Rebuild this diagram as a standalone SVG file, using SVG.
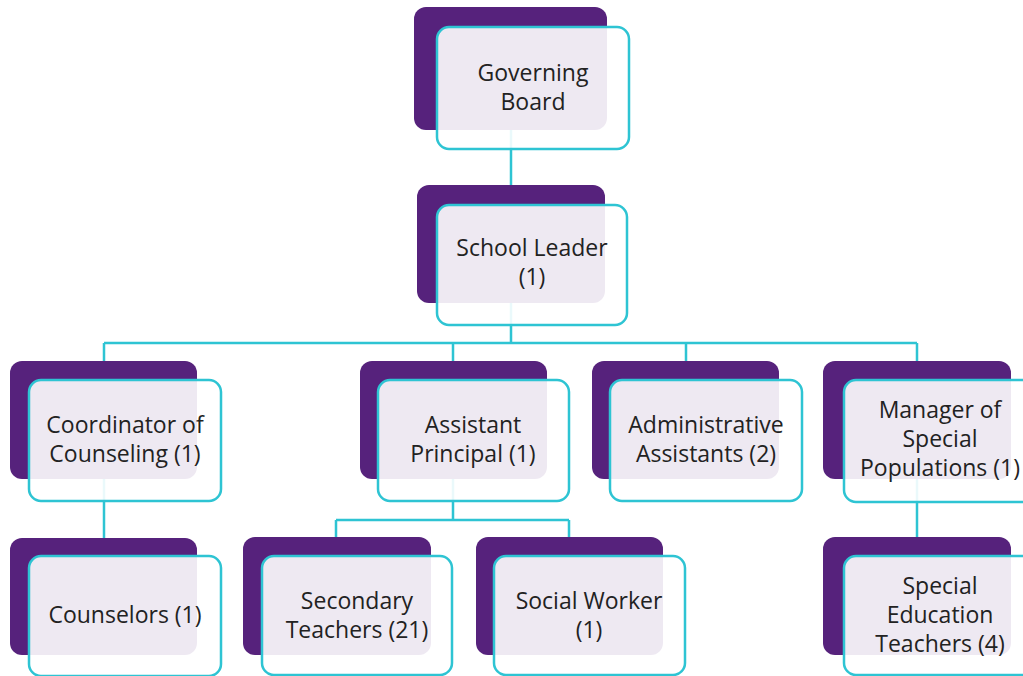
<svg xmlns="http://www.w3.org/2000/svg" width="1023" height="676" viewBox="0 0 1023 676">
<style>
.bg{fill:#56227C}
.fr{fill:#fff;fill-opacity:0.9;stroke:#2EC4D3;stroke-width:2.5}
.t{font-family:"Open Sans","Liberation Sans",sans-serif;font-size:23px;fill:#222;text-anchor:middle}
.c{fill:none;stroke:#2EC4D3;stroke-width:2.5}
</style>
<rect width="1023" height="676" fill="#fff"/>
<g id="connectors">
<path class="c" d="M511 130V185"/>
<path class="c" d="M511 302V343M104 343H917M104 343V361M453 343V361M686 343V361M917 343V361"/>
<path class="c" d="M104 479V538"/>
<path class="c" d="M917 479V538"/>
<path class="c" d="M453 479V520M336 520H569M336 520V537M569 520V537"/>
</g>
<g id="governing-board">
<rect class="bg" x="414" y="7" width="193" height="123" rx="12"/>
<rect class="fr" x="437" y="27" width="192" height="122" rx="12"/>
<text class="t" x="533" y="81">Governing</text>
<text class="t" x="533" y="110">Board</text>
</g>
<g id="school-leader">
<rect class="bg" x="417" y="185" width="188" height="118" rx="12"/>
<rect class="fr" x="437" y="205" width="190" height="120" rx="12"/>
<text class="t" x="532" y="256">School Leader</text>
<text class="t" x="532" y="285">(1)</text>
</g>
<g id="coordinator-counseling">
<rect class="bg" x="10" y="361" width="187" height="118" rx="12"/>
<rect class="fr" x="29" y="380" width="192" height="121" rx="12"/>
<text class="t" x="125" y="433">Coordinator of</text>
<text class="t" x="125" y="462">Counseling (1)</text>
</g>
<g id="assistant-principal">
<rect class="bg" x="360" y="361" width="187" height="118" rx="12"/>
<rect class="fr" x="378" y="380" width="191" height="121" rx="12"/>
<text class="t" x="473" y="433">Assistant</text>
<text class="t" x="473" y="462">Principal (1)</text>
</g>
<g id="administrative-assistants">
<rect class="bg" x="592" y="361" width="187" height="118" rx="12"/>
<rect class="fr" x="610" y="380" width="192" height="121" rx="12"/>
<text class="t" x="706" y="433">Administrative</text>
<text class="t" x="706" y="462">Assistants (2)</text>
</g>
<g id="manager-special-populations">
<rect class="bg" x="823" y="361" width="188" height="118" rx="12"/>
<rect class="fr" x="844" y="380" width="192" height="122" rx="12"/>
<text class="t" x="940" y="418">Manager of</text>
<text class="t" x="940" y="447">Special</text>
<text class="t" x="940" y="476">Populations (1)</text>
</g>
<g id="counselors">
<rect class="bg" x="10" y="538" width="187" height="117" rx="12"/>
<rect class="fr" x="29" y="556" width="192" height="120" rx="12"/>
<text class="t" x="125" y="623">Counselors (1)</text>
</g>
<g id="secondary-teachers">
<rect class="bg" x="243" y="537" width="188" height="118" rx="12"/>
<rect class="fr" x="262" y="556" width="190" height="119" rx="12"/>
<text class="t" x="357" y="609">Secondary</text>
<text class="t" x="357" y="638">Teachers (21)</text>
</g>
<g id="social-worker">
<rect class="bg" x="476" y="537" width="187" height="118" rx="12"/>
<rect class="fr" x="494" y="556" width="191" height="119" rx="12"/>
<text class="t" x="589" y="609">Social Worker</text>
<text class="t" x="589" y="638">(1)</text>
</g>
<g id="special-education-teachers">
<rect class="bg" x="823" y="537" width="188" height="118" rx="12"/>
<rect class="fr" x="844" y="556" width="192" height="119" rx="12"/>
<text class="t" x="940" y="594">Special</text>
<text class="t" x="940" y="623">Education</text>
<text class="t" x="940" y="652">Teachers (4)</text>
</g>
</svg>
